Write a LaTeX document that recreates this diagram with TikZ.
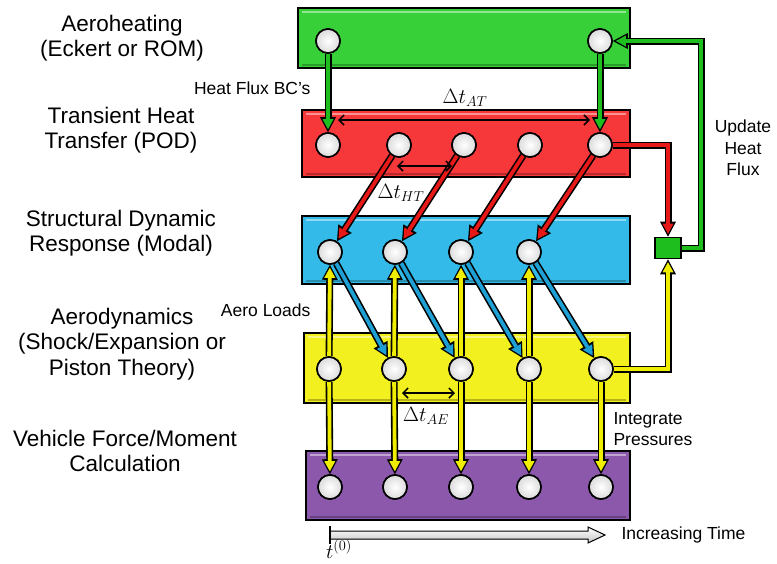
\documentclass[tikz,border=0pt]{standalone}
\usepackage{fontspec}
\setmainfont{Liberation Sans}
\usetikzlibrary{arrows.meta,calc}
\definecolor{grnband}{RGB}{56,208,56}
\definecolor{redband}{RGB}{246,56,58}
\definecolor{bluband}{RGB}{52,186,232}
\definecolor{yelband}{RGB}{242,240,30}
\definecolor{purband}{RGB}{140,88,172}
\definecolor{grnflow}{RGB}{30,190,30}
\definecolor{redflow}{RGB}{230,24,24}
\definecolor{bluflow}{RGB}{30,160,212}
\definecolor{yelflow}{RGB}{240,238,0}
\tikzset{
  band/.style={draw=black, line width=1.6pt, fill=#1},
  dot/.style={circle, draw=black, line width=1.6pt, minimum size=24pt, inner sep=0pt, inner color=white, outer color=gray!28},
  flow/.style={draw=#1, line width=3.8pt, -{Triangle[length=10pt,width=11pt,line width=0pt]}, shorten >=3pt,
    preaction={draw=black, line width=7pt, -{Triangle[length=15pt,width=16pt,line width=0pt]}, shorten >=0pt}},
  span/.style={draw=black, line width=1.5pt, {Straight Barb[length=5pt,width=10pt]}-{Straight Barb[length=5pt,width=10pt]}},
  big/.style={align=center, font=\fontsize{22.5}{25.5}\selectfont},
  small/.style={align=center, font=\fontsize{17.5}{21.5}\selectfont},
  delta/.style={font=\fontsize{20}{24}\selectfont},
}
\begin{document}
\begin{tikzpicture}[x=1pt, y=-1pt]
    \useasboundingbox (0,0) rectangle (777,563);
    \foreach \col/\xa/\ya/\yb in {grnband/298/8/68, redband/302/110/177, bluband/302/216/284, yelband/304/333/403, purband/306/451/520}{
        \filldraw[band=\col] (\xa,\ya) rectangle (630,\yb);
        \draw[white, opacity=0.45, line width=2pt] ({\xa+4},{\ya+4}) -- (626,{\ya+4});
        \draw[black, opacity=0.25, line width=2pt] ({\xa+4},{\yb-3}) -- (626,{\yb-3});
    }
    \node[big] (lblah) at (122,38) {Aeroheating\\(Eckert or ROM)};
    \node[big] (lblth) at (121,130) {Transient Heat\\Transfer (POD)};
    \node[big] (lblsd) at (121,233) {Structural Dynamic\\Response (Modal)};
    \node[big] (lblad) at (122,344) {Aerodynamics\\(Shock/Expansion or\\Piston Theory)};
    \node[big] (lblvf) at (125,451) {Vehicle Force/Moment\\Calculation};
    \foreach \x [count = \i] in {328, 600} {\node[dot] (ah\i) at (\x,41) {};}
    \foreach \x [count = \i] in {328, 399, 464, 530, 600} {\node[dot] (th\i) at (\x,145) {};}
    \foreach \x [count = \i] in {330, 395, 461, 529} {\node[dot] (sd\i) at (\x,252) {};}
    \foreach \x [count = \i] in {329, 394, 461, 529, 601} {\node[dot] (ad\i) at (\x,369) {};}
    \foreach \x [count = \i] in {330, 395, 461, 529, 601} {\node[dot] (vf\i) at (\x,487) {};}
    \node[draw=black, line width=1.6pt, fill=grnflow, minimum width=26pt, minimum height=21pt, inner sep=0pt] (upd) at (668,248) {};
    \coordinate (fb) at (701,41);
    \draw[flow=grnflow] (ah1) -- (th1);
    \draw[flow=grnflow] (ah2) -- (th5);
    \foreach \i/\j in {2/1, 3/2, 4/3, 5/4} {\draw[flow=redflow] (th\i) -- (sd\j);}
    \foreach \i in {1,...,4} {\draw[flow=yelflow] (ad\i) -- (sd\i);}
    \foreach \i in {1,...,5} {\draw[flow=yelflow] (ad\i) -- (vf\i);}
    \foreach \i/\j in {1/2, 2/3, 3/4, 4/5} {\draw[flow=bluflow] (sd\i) -- (ad\j);}
    \draw[flow=redflow] (th5) -| (upd);
    \draw[flow=yelflow] (ad5) -| (upd);
    \draw[flow=grnflow] (upd) -| (fb) -- (ah2);
    \foreach \r in {ah1, ah2, th1, th2, th3, th4, th5, sd1, sd2, sd3, sd4, ad1, ad2, ad3, ad4, ad5, vf1, vf2, vf3, vf4, vf5} {\node[dot] at (\r) {};}
    \coordinate (atl) at (338,120);
    \coordinate (atr) at (590,120);
    \coordinate (htl) at (397,166);
    \coordinate (htr) at (452,166);
    \coordinate (ael) at (402,393);
    \coordinate (aer) at (455,393);
    \draw[span] (atl) -- (atr);
    \draw[span] (htl) -- (htr);
    \draw[span] (ael) -- (aer);
    \node[delta] (lblat) at (465,98) {$\Delta t_{AT}$};
    \node[delta] (lblht) at (401,193) {$\Delta t_{HT}$};
    \node[delta] (lblae) at (426,416) {$\Delta t_{AE}$};
    \node[small, anchor=east] (lblbc) at (314,88) {Heat Flux BC's};
    \node[small, anchor=east] (lblal) at (314,310) {Aero Loads};
    \node[small] (lblup) at (743,148) {Update\\Heat\\Flux};
    \node[small, align=left, anchor=west] (lblip) at (610,429) {Integrate\\Pressures};
    \coordinate (t0) at (330,535);
    \coordinate (t1) at (605,535);
    \filldraw[line width=1pt, top color=white, bottom color=gray!45, draw=black] ($(t0)+(0,-4)$) -- ($(t1)+(-17,-4)$) -- ($(t1)+(-17,-8)$) -- (t1) -- ($(t1)+(-17,8)$) -- ($(t1)+(-17,4)$) -- ($(t0)+(0,4)$) -- cycle;
    \draw[line width=2.5pt] ($(t0)+(0,-9)$) -- ($(t0)+(0,9)$);
    \node[small, anchor=west] (lblit) at (618,535) {Increasing Time};
    \node[delta] (lblt0) at (339,549) {$t^{(0)}$};
\end{tikzpicture}
\end{document}
